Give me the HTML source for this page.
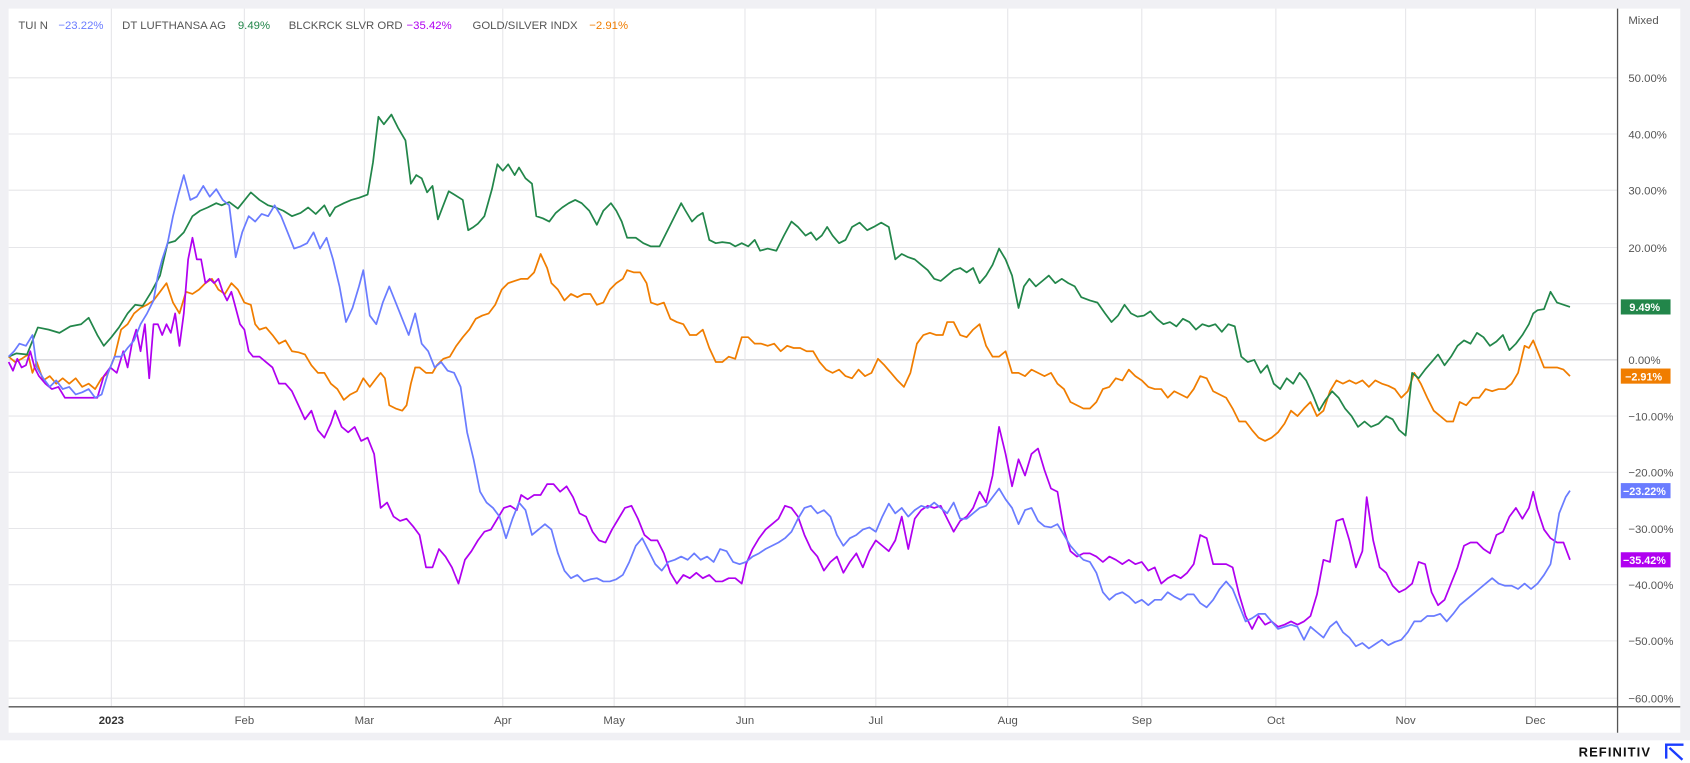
<!DOCTYPE html>
<html><head><meta charset="utf-8"><style>
html,body{margin:0;padding:0;background:#fff;}
svg{display:block;font-family:"Liberation Sans",sans-serif;}
</style></head><body>
<svg width="1690" height="763" viewBox="0 0 1563 706" preserveAspectRatio="none" xmlns="http://www.w3.org/2000/svg">
<rect x="0" y="0" width="1563" height="706" fill="#fff"/>
<rect x="0" y="0" width="1563" height="685" fill="#f0f0f4"/>
<rect x="8" y="8" width="1546" height="670" fill="#fff"/>
<g stroke="#e6e6e9" stroke-width="1">
<line x1="8" x2="1496" y1="72" y2="72"/><line x1="8" x2="1496" y1="124" y2="124"/><line x1="8" x2="1496" y1="176" y2="176"/><line x1="8" x2="1496" y1="229" y2="229"/><line x1="8" x2="1496" y1="281" y2="281"/><line x1="8" x2="1496" y1="333" y2="333" stroke="#c8c8cc"/><line x1="8" x2="1496" y1="385" y2="385"/><line x1="8" x2="1496" y1="437" y2="437"/><line x1="8" x2="1496" y1="489" y2="489"/><line x1="8" x2="1496" y1="541" y2="541"/><line x1="8" x2="1496" y1="593" y2="593"/><line x1="8" x2="1496" y1="646" y2="646"/>
<line y1="8" y2="654" x1="103" x2="103"/><line y1="8" y2="654" x1="226" x2="226"/><line y1="8" y2="654" x1="337" x2="337"/><line y1="8" y2="654" x1="465" x2="465"/><line y1="8" y2="654" x1="568" x2="568"/><line y1="8" y2="654" x1="689" x2="689"/><line y1="8" y2="654" x1="810" x2="810"/><line y1="8" y2="654" x1="932" x2="932"/><line y1="8" y2="654" x1="1056" x2="1056"/><line y1="8" y2="654" x1="1180" x2="1180"/><line y1="8" y2="654" x1="1300" x2="1300"/><line y1="8" y2="654" x1="1420" x2="1420"/>
</g>
<line x1="1496" x2="1496" y1="8" y2="678" stroke="#555" stroke-width="1.2"/>
<line x1="8" x2="1554" y1="654" y2="654" stroke="#555" stroke-width="1.2"/>
<g font-size="10.5" fill="#555">
<text x="1506" y="22">Mixed</text>
<text x="1506" y="76">50.00%</text><text x="1506" y="128">40.00%</text><text x="1506" y="180">30.00%</text><text x="1506" y="233">20.00%</text><text x="1506" y="285">10.00%</text><text x="1506" y="337">0.00%</text>
<text x="1506" y="389">−10.00%</text><text x="1506" y="441">−20.00%</text><text x="1506" y="493">−30.00%</text><text x="1506" y="545">−40.00%</text><text x="1506" y="597">−50.00%</text><text x="1506" y="650">−60.00%</text>
<g text-anchor="middle">
<text x="103" y="670" font-weight="bold" fill="#333">2023</text><text x="226" y="670">Feb</text><text x="337" y="670">Mar</text><text x="465" y="670">Apr</text><text x="568" y="670">May</text><text x="689" y="670">Jun</text><text x="810" y="670">Jul</text><text x="932" y="670">Aug</text><text x="1056" y="670">Sep</text><text x="1180" y="670">Oct</text><text x="1300" y="670">Nov</text><text x="1420" y="670">Dec</text>
</g>
</g>
<g font-size="10.5">
<text x="17" y="27" fill="#555">TUI N</text><text x="54" y="27" fill="#6a7cff">−23.22%</text>
<text x="113" y="27" fill="#555">DT LUFTHANSA AG</text><text x="220" y="27" fill="#22864a">9.49%</text>
<text x="267" y="27" fill="#555">BLCKRCK SLVR ORD</text><text x="376" y="27" fill="#b000f0">−35.42%</text>
<text x="437" y="27" fill="#555">GOLD/SILVER INDX</text><text x="545" y="27" fill="#f07d00">−2.91%</text>
</g>
<g fill="none" stroke-width="1.6" stroke-linejoin="round">
<polyline stroke="#f07d00" points="8,330 14,335 20,332 26,328 30,345 34,335 40,352 46,348 52,355 58,350 64,355 70,350 76,358 82,355 88,360 94,350 100,345 106,330 112,305 118,300 124,290 130,285 136,282 142,278 148,270 154,262 160,280 166,290 172,270 178,272 184,268 190,262 196,258 202,268 208,272 214,262 220,268 226,280 232,282 236,300 240,305 246,303 252,310 258,318 264,315 270,325 276,326 282,328 288,338 294,345 300,345 306,355 312,360 318,370 324,365 330,362 336,350 342,358 348,350 352,345 356,350 360,375 366,378 372,380 376,375 380,355 384,340 388,340 394,345 400,345 404,338 410,332 416,330 422,320 428,312 434,305 440,295 446,292 452,290 458,282 464,268 470,262 476,260 482,258 488,258 494,252 500,235 506,248 510,262 516,268 522,278 528,272 534,275 540,272 546,272 552,282 558,280 564,268 570,262 576,258 580,250 586,252 592,252 598,262 602,280 608,282 614,280 620,295 626,298 632,300 638,310 644,310 650,305 656,322 662,335 668,335 674,330 680,332 686,312 692,312 698,318 704,318 710,320 716,318 722,325 728,320 734,322 740,322 746,325 752,325 758,335 764,342 770,345 776,342 782,348 788,350 794,342 800,348 806,345 812,332 818,338 824,345 830,352 836,358 842,345 848,318 854,310 860,308 866,310 872,310 876,298 882,298 888,310 894,312 900,305 906,300 912,320 918,330 924,330 930,325 936,345 942,345 948,348 954,342 960,345 966,348 972,345 978,355 984,360 990,372 996,375 1002,378 1008,378 1014,372 1020,360 1026,358 1032,350 1038,352 1044,342 1050,348 1056,352 1062,358 1068,360 1074,360 1080,368 1086,362 1092,365 1098,368 1104,360 1110,348 1116,350 1122,362 1128,365 1134,368 1140,378 1146,390 1152,390 1158,398 1164,405 1170,408 1176,405 1182,400 1188,392 1194,380 1200,385 1206,378 1212,372 1218,385 1224,380 1230,362 1236,352 1242,355 1248,352 1254,355 1260,352 1266,358 1272,352 1278,355 1284,357 1290,360 1296,368 1302,362 1308,345 1314,355 1320,368 1326,380 1332,385 1338,390 1344,390 1350,372 1356,375 1362,368 1368,368 1374,360 1380,362 1386,360 1392,360 1398,355 1404,345 1410,320 1414,322 1418,315 1422,325 1428,340 1434,340 1440,340 1446,342 1452,348"/>
<polyline stroke="#22864a" points="8,330 15,327 25,328 35,303 45,305 55,308 65,302 75,300 82,294 90,310 96,320 103,312 110,303 118,290 125,282 132,283 140,270 148,255 155,225 162,223 170,215 178,200 185,195 192,192 200,188 205,190 212,187 220,193 232,178 240,185 248,190 255,192 262,195 270,200 278,197 285,192 292,198 300,190 305,200 310,192 318,188 325,185 332,183 340,180 345,150 350,108 355,115 362,106 368,118 375,130 380,170 385,162 390,165 395,178 400,172 405,203 410,190 415,177 420,180 428,185 433,213 438,210 442,207 448,200 455,175 460,152 465,158 470,152 476,162 480,155 486,165 492,170 496,200 502,202 508,205 514,197 520,192 526,188 532,185 538,188 545,195 552,208 558,195 565,188 570,195 575,205 580,220 588,220 595,225 602,228 610,228 618,212 624,200 630,188 634,195 640,205 645,200 650,197 656,222 662,225 668,224 675,225 680,228 686,225 692,228 698,222 703,232 710,230 718,232 725,218 732,205 738,210 745,218 750,215 755,222 760,218 765,210 770,218 776,225 782,222 788,210 795,206 802,213 808,210 815,206 822,210 828,240 834,235 840,238 846,240 852,245 858,250 864,258 870,260 876,255 882,250 888,248 894,252 900,248 906,262 912,255 918,245 924,230 930,240 936,255 942,285 947,265 952,258 958,265 964,260 970,255 976,262 982,258 988,262 994,265 1000,275 1008,278 1015,280 1022,290 1028,298 1034,292 1040,282 1046,290 1052,293 1058,292 1064,288 1070,295 1076,300 1082,298 1088,302 1094,295 1100,298 1106,305 1112,300 1118,302 1124,300 1130,307 1136,300 1142,302 1148,330 1154,335 1160,333 1166,345 1172,338 1178,355 1184,360 1190,350 1196,355 1202,345 1208,352 1214,365 1220,380 1226,370 1232,362 1238,368 1244,378 1250,385 1256,395 1262,390 1268,395 1275,392 1282,385 1288,388 1294,398 1300,403 1306,345 1312,350 1318,342 1324,335 1330,328 1336,338 1342,330 1348,320 1354,315 1360,318 1366,308 1372,312 1378,320 1384,316 1390,310 1396,324 1402,318 1408,310 1414,300 1418,290 1422,287 1428,286 1434,270 1440,280 1452,284"/>
<polyline stroke="#b000f0" points="8,335 12,343 16,332 20,340 24,338 28,325 32,340 36,348 42,355 48,360 54,358 60,368 66,368 72,368 78,368 84,368 90,368 96,348 102,340 108,345 114,325 118,340 122,318 126,305 130,325 134,300 138,350 142,300 146,300 150,310 154,300 158,308 162,290 166,320 170,290 174,240 178,220 182,240 186,240 190,262 194,258 198,262 202,258 206,270 210,278 214,270 218,285 222,300 226,305 230,325 234,330 240,330 246,335 252,340 258,355 264,355 270,362 276,375 282,388 288,380 294,398 300,405 306,392 310,380 316,395 322,400 328,395 334,408 340,405 346,420 352,470 358,465 364,478 370,482 376,480 382,487 388,495 394,525 400,525 406,508 412,515 418,525 424,540 430,518 436,510 442,500 448,492 454,490 460,480 466,470 472,468 478,472 482,458 488,462 494,458 500,458 506,448 512,448 518,455 524,450 530,460 536,475 542,478 548,492 554,500 560,502 566,490 572,480 578,470 584,468 590,480 596,495 602,500 608,500 614,512 620,530 626,540 632,532 638,535 644,530 650,535 656,532 662,538 668,538 674,535 680,535 686,540 690,522 696,508 702,498 708,490 714,485 720,480 726,468 732,470 738,478 744,495 750,508 756,515 762,528 768,520 774,515 780,530 786,520 792,512 798,525 804,510 810,500 816,505 822,510 828,500 834,478 840,508 846,480 852,472 858,468 864,470 870,468 876,480 882,492 888,482 894,478 900,470 906,455 912,465 918,440 924,395 930,420 936,450 942,425 948,440 954,420 960,415 966,435 972,452 978,455 984,490 990,510 996,515 1002,512 1008,512 1014,515 1020,520 1026,515 1032,518 1038,522 1044,518 1050,522 1056,520 1062,528 1068,525 1074,540 1080,535 1086,532 1092,535 1098,530 1104,522 1110,495 1116,498 1122,522 1128,522 1134,522 1140,525 1146,550 1152,570 1158,582 1164,570 1170,578 1176,575 1182,580 1188,578 1194,575 1200,578 1206,575 1212,570 1218,550 1224,518 1230,520 1236,482 1242,480 1248,500 1254,525 1260,510 1264,460 1270,500 1276,525 1282,530 1288,542 1294,548 1300,545 1306,540 1312,520 1318,522 1324,548 1330,560 1336,555 1342,540 1348,525 1354,505 1360,502 1366,502 1372,508 1378,512 1384,495 1390,492 1396,478 1402,470 1408,480 1414,470 1418,455 1422,472 1428,490 1434,498 1440,502 1446,502 1452,518"/>
<polyline stroke="#6a7cff" points="8,330 13,325 18,318 24,320 30,310 34,340 40,350 46,358 52,352 58,360 64,358 70,365 76,363 82,360 88,368 94,365 100,345 106,330 112,330 118,322 124,315 130,300 136,290 142,278 146,255 150,240 155,225 160,200 165,180 170,162 176,185 182,182 188,172 194,182 200,175 206,185 212,190 218,238 224,215 230,200 236,205 242,198 248,200 254,190 260,200 266,215 272,230 278,228 284,225 290,215 296,230 302,220 308,240 314,265 320,298 326,285 332,265 336,250 342,292 348,300 354,280 360,265 366,280 372,295 378,310 384,290 390,318 396,325 402,340 408,335 414,343 420,345 426,358 432,400 438,425 444,455 450,465 456,470 462,478 468,498 474,480 480,465 486,472 492,495 498,490 504,485 510,490 516,512 522,528 528,535 534,532 540,538 546,536 552,535 558,538 564,538 570,536 576,532 582,520 588,505 594,498 600,510 606,522 612,528 618,520 624,518 630,515 636,518 642,512 648,518 654,515 660,520 666,508 672,510 678,520 684,522 690,520 696,515 702,512 708,508 714,505 720,502 726,498 732,492 738,480 744,470 750,468 756,475 762,472 768,478 774,495 780,505 786,498 792,495 798,490 804,488 810,492 816,478 822,466 828,475 834,470 840,478 846,472 852,468 858,470 864,465 870,470 876,475 882,465 888,480 894,480 900,475 906,470 912,468 918,460 924,452 930,462 936,470 942,485 948,472 954,470 960,482 966,487 972,488 978,485 984,495 990,505 996,512 1002,518 1008,520 1014,530 1020,548 1026,555 1032,550 1038,548 1044,552 1050,558 1056,555 1062,560 1068,555 1074,555 1080,548 1086,552 1092,555 1098,550 1104,550 1110,558 1116,562 1122,555 1128,545 1134,538 1140,545 1146,560 1152,575 1158,572 1164,568 1170,568 1176,575 1182,582 1188,580 1194,578 1200,580 1206,592 1212,580 1218,585 1224,590 1230,580 1236,575 1242,585 1248,590 1254,598 1260,595 1266,600 1272,596 1278,592 1284,597 1290,594 1296,592 1302,585 1308,575 1314,575 1320,570 1326,570 1332,568 1338,575 1344,568 1350,560 1356,555 1362,550 1368,545 1374,540 1380,535 1386,540 1392,542 1398,542 1404,545 1410,540 1416,545 1422,540 1428,532 1434,522 1438,500 1442,475 1448,460 1452,454"/>
</g>
<g font-size="10" font-weight="bold" fill="#fff">
<rect x="1499" y="277" width="46" height="14" fill="#22864a"/><text x="1507" y="288">9.49%</text>
<rect x="1499" y="341" width="46" height="14" fill="#f07d00"/><text x="1503" y="352">−2.91%</text>
<rect x="1499" y="447" width="46" height="14" fill="#6a7cff"/><text x="1501" y="458">−23.22%</text>
<rect x="1499" y="511" width="46" height="14" fill="#b000f0"/><text x="1501" y="522">−35.42%</text>
</g>
<text x="1460" y="700" font-size="12" font-weight="bold" fill="#111" letter-spacing="1">REFINITIV</text>
<path d="M1541,702 V689 H1557 M1544,692 L1556,703" stroke="#1a3cff" stroke-width="2.2" fill="none"/>
</svg>
</body></html>
